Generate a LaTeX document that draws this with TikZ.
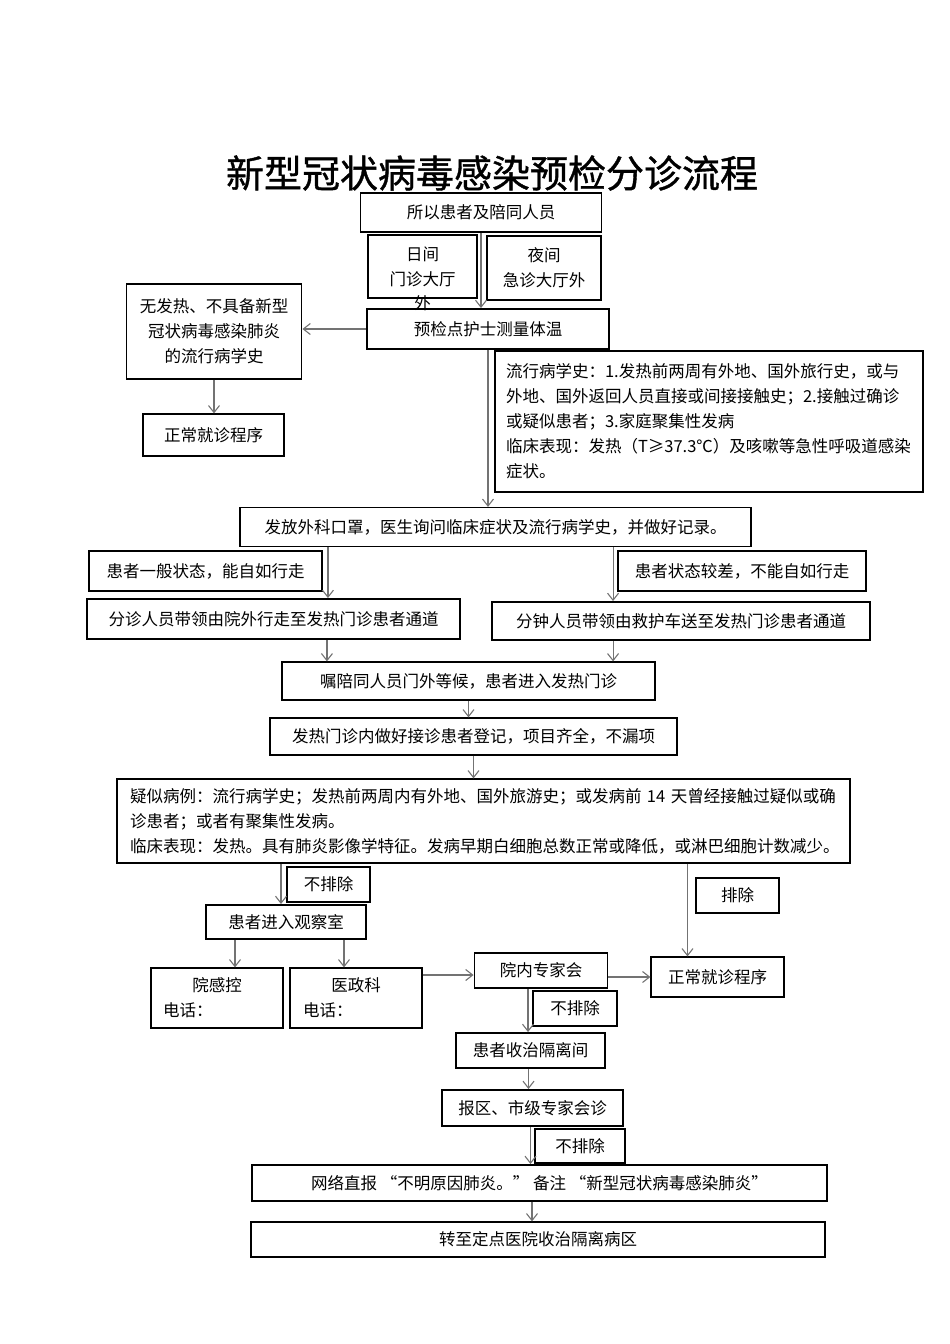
\documentclass[tikz,border=0pt]{standalone}
\usepackage{fontspec}
\setmainfont{Noto Sans CJK SC}
\newfontfamily\titlefont[FakeBold=1]{Noto Sans CJK SC}
\usepackage{tikz}
\usetikzlibrary{arrows.meta,calc,positioning}
\tikzset{box/.style={draw=black, line width=1.2pt, inner sep=0pt, align=center, font=\fontsize{16.5}{25}\selectfont},
         boxb/.style={box, line width=1.9pt},
         flow/.style={draw=black!55, line width=1.1pt, -{Straight Barb[length=7pt,width=11pt]}}}

\begin{document}
\begin{tikzpicture}[x=1pt,y=-1pt]
\useasboundingbox (0,0) rectangle (950,1344);
\node[font=\titlefont\fontsize{38}{40}\selectfont] (title) at (492,173) {新型冠状病毒感染预检分诊流程};

% arrival and pre-check
\node[box, minimum width=241, minimum height=39] (all) at (481,212.5) {所以患者及陪同人员};
\node[box, minimum width=109, minimum height=63] (day) at (422.5,266.5) {};
\node[align=center, inner sep=0pt, font=\fontsize{16.5}{24.5}\selectfont] (daytext) at (422.5,279) {日间\\门诊大厅\\外};
\node[boxb, minimum width=114, minimum height=64] (night) at (544,268) {夜间\\急诊大厅外};
\node[boxb, minimum width=242, minimum height=40] (check) at (488,329) {预检点护士测量体温};
\node[boxb, minimum width=175, minimum height=95] (nofever) at (214,331.5) {无发热、不具备新型\\冠状病毒感染肺炎\\的流行病学史};
\node[box, minimum width=141, minimum height=42] (normA) at (213.5,435) {正常就诊程序};
\node[boxb, minimum width=428, minimum height=141, text width=406, align=left] (epi) at (709,421.5)
  {流行病学史：1.发热前两周有外地、国外旅行史，或与\\外地、国外返回人员直接或间接接触史；2.接触过确诊\\或疑似患者；3.家庭聚集性发病\\临床表现：发热（T≥37.3℃）及咳嗽等急性呼吸道感染\\症状。};

% fever clinic
\node[box, minimum width=511, minimum height=39] (mask) at (495.5,527) {发放外科口罩，医生询问临床症状及流行病学史，并做好记录。};
\node[boxb, minimum width=233, minimum height=40] (walk) at (205.5,571) {患者一般状态，能自如行走};
\node[boxb, minimum width=248, minimum height=40] (nowalk) at (742,571) {患者状态较差，不能自如行走};
\node[boxb, minimum width=373, minimum height=40] (guideA) at (273.5,619) {分诊人员带领由院外行走至发热门诊患者通道};
\node[boxb, minimum width=378, minimum height=38] (guideB) at (681,621) {分钟人员带领由救护车送至发热门诊患者通道};
\node[box, minimum width=373, minimum height=38] (wait) at (468.5,681) {嘱陪同人员门外等候，患者进入发热门诊};
\node[box, minimum width=407, minimum height=37] (reg) at (473.5,736.5) {发热门诊内做好接诊患者登记，项目齐全，不漏项};
\node[box, minimum width=733, minimum height=84, text width=707, align=left] (susp) at (483.5,821)
  {疑似病例：流行病学史；发热前两周内有外地、国外旅游史；或发病前 14 天曾经接触过疑似或确\\诊患者；或者有聚集性发病。\\临床表现：发热。具有肺炎影像学特征。发病早期白细胞总数正常或降低，或淋巴细胞计数减少。};

% observation and consultation
\node[boxb, minimum width=83, minimum height=35] (notexA) at (328.5,884.5) {不排除};
\node[boxb, minimum width=160, minimum height=34] (obs) at (286,922) {患者进入观察室};
\node[box, minimum width=83, minimum height=35] (excl) at (737.5,895.5) {排除};
\node[box, minimum width=132, minimum height=60, text width=108, align=left] (infect) at (217,998) {\makebox[108pt]{院感控}\\电话：};
\node[box, minimum width=132, minimum height=60, text width=106, align=left] (admin) at (356,998) {\makebox[106pt]{医政科}\\电话：};
\node[boxb, minimum width=133, minimum height=35] (expert) at (541,970.5) {院内专家会};
\node[box, minimum width=133, minimum height=40] (normB) at (717.5,977) {正常就诊程序};
\node[boxb, minimum width=84, minimum height=35] (notexB) at (575,1008.5) {不排除};
\node[boxb, minimum width=149, minimum height=35] (iso) at (530.5,1050.5) {患者收治隔离间};
\node[boxb, minimum width=181, minimum height=36] (city) at (532.5,1108) {报区、市级专家会诊};
\node[boxb, minimum width=90, minimum height=34] (notexC) at (580,1146) {不排除};
\node[boxb, minimum width=575, minimum height=36] (report) at (539.5,1183) {网络直报 “不明原因肺炎。” 备注 “新型冠状病毒感染肺炎”};
\node[box, minimum width=574, minimum height=35] (transfer) at (538,1239.5) {转至定点医院收治隔离病区};

% connectors
\draw[flow] (all.south) -- (all.south |- check.north);
\draw[flow] (check.west) -- (check.west -| nofever.east);
\draw[flow] (nofever.south) -- (nofever.south |- normA.north);
\draw[flow] (check.south) -- (check.south |- mask.north);
\draw[flow] ([xshift=5]walk.east |- mask.south) -- ([xshift=5]walk.east |- guideA.north);
\draw[flow] ([xshift=-4]nowalk.west |- mask.south) -- ([xshift=-4]nowalk.west |- guideB.north);
\draw[flow] ([xshift=4]walk.east |- guideA.south) -- ([xshift=4]walk.east |- wait.north);
\draw[flow] ([xshift=-4]nowalk.west |- guideB.south) -- ([xshift=-4]nowalk.west |- wait.north);
\draw[flow] (wait.south) -- (wait.south |- reg.north);
\draw[flow] (reg.south) -- (reg.south |- susp.north);
\draw[flow] ([xshift=-5]obs.north |- susp.south) -- ([xshift=-5]obs.north);
\draw[flow] ([xshift=-30]normB.north |- susp.south) -- ([xshift=-30]normB.north);
\draw[flow] ([xshift=18]infect.north |- obs.south) -- ([xshift=18]infect.north);
\draw[flow] ([xshift=-12]admin.north |- obs.south) -- ([xshift=-12]admin.north);
\draw[flow] ([yshift=-4.5]expert.west -| admin.east) -- ([yshift=-4.5]expert.west);
\draw[flow] (normB.west -| expert.east) -- (normB.west);
\draw[flow] ([xshift=-13]expert.south) -- ([xshift=-13]expert.south |- iso.north);
\draw[flow] ([xshift=-2]iso.south) -- ([xshift=-2]iso.south |- city.north);
\draw[flow] ([xshift=-2]city.south) -- ([xshift=-2]city.south |- report.north);
\draw[flow] ([xshift=-6]transfer.north |- report.south) -- ([xshift=-6]transfer.north);
\end{tikzpicture}
\end{document}
